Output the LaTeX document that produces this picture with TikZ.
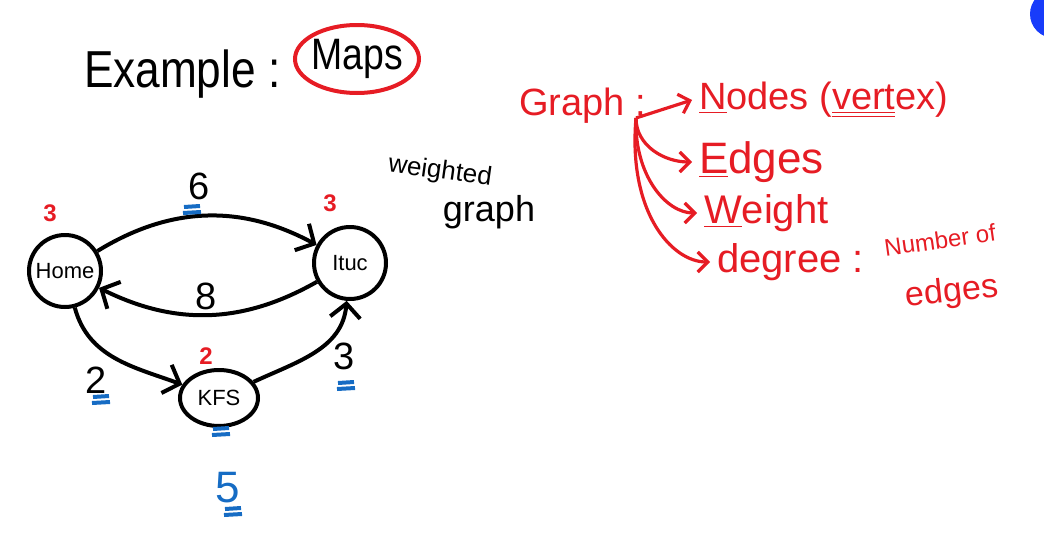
\documentclass[tikz,border=0pt]{standalone}
\usepackage{fontspec}
\setmainfont{Liberation Sans}
\usetikzlibrary{arrows.meta, shapes.geometric}
\definecolor{mapred}{RGB}{230, 28, 36}
\definecolor{mapblue}{RGB}{22, 108, 196}
\definecolor{dotblue}{RGB}{24, 60, 250}

\begin{document}
\begin{tikzpicture}[x=0.5pt, y=-0.5pt,
    place/.style={draw, circle, line width=2pt, minimum size=36pt, inner sep=0pt, font=\fontsize{11}{11}\selectfont},
    road/.style={line width=2pt, -{Straight Barb[length=7pt, width=15pt, line width=2pt]}},
    weightlabel/.style={font=\fontsize{19}{19}\selectfont},
    degreelabel/.style={text=mapred, font=\bfseries\fontsize{12}{12}\selectfont},
    redlabel/.style={text=mapred, anchor=west, font=\fontsize{20}{20}\selectfont},
    redarrow/.style={mapred, line width=1.6pt, -{Straight Barb[length=5pt, width=10pt, line width=1.6pt]}},
    dashmark/.pic={\draw[mapblue, line width=2pt] (-8,-3) -- (8,-4) (-9,3) -- (9,2);}]
    \useasboundingbox (0,0) rectangle (1044,546);
    \clip (0,0) rectangle (1044,546);
    \fill[dotblue] (1054,14) circle [radius=24];

    % Title
    \node[anchor=west, xscale=0.85, font=\fontsize{26}{26}\selectfont] (example) at (78,74) {Example :};
    \node[ellipse, draw=mapred, line width=2pt, minimum width=62pt, minimum height=34pt, inner sep=0pt] (maps) at (357,59) {};
    \node[xscale=0.85, font=\fontsize{22}{22}\selectfont] (mapstext) at (maps.center) {Maps};

    % Places
    \node[place] (home) at (65,271) {Home};
    \node[place] (ituc) at (350,263) {Ituc};
    \node[place, ellipse, minimum width=39pt, minimum height=28pt] (kfs) at (219,398) {KFS};

    % Roads
    \draw[road] (home) to[bend left=30] (ituc);
    \draw[road] (ituc) to[bend left=28] (home);
    \draw[road] (home) to[out=-75, in=160] (kfs);
    \draw[road] (kfs) to[out=25, in=-95] (ituc);

    % Weights
    \node[weightlabel] (w6) at (199,186) {6};
    \node[weightlabel] (w8) at (206,296) {8};
    \node[weightlabel] (w2) at (96,380) {2};
    \node[weightlabel] (w3) at (344,356) {3};
    \node[text=mapblue, font=\fontsize{22}{22}\selectfont] (w5) at (228,488) {5};
    \pic at (192,210) {dashmark};
    \pic at (101,400) {dashmark};
    \pic at (346,386) {dashmark};
    \pic at (221,432) {dashmark};
    \pic at (233,512) {dashmark};

    % Degrees
    \node[degreelabel] (dhome) at (50,213) {3};
    \node[degreelabel] (dituc) at (330,203) {3};
    \node[degreelabel] (dkfs) at (206,356) {2};

    \node[rotate=-8, font=\fontsize{13}{13}\selectfont] (weighted) at (440,172) {weighted};
    \node[font=\fontsize{18}{18}\selectfont] (wgraph) at (489,212) {graph};

    % Graph terms
    \node[redlabel, font=\fontsize{19}{19}\selectfont] (graph) at (512,106) {Graph :};
    \coordinate (fork) at (636,118);
    \node[redlabel, font=\fontsize{19}{19}\selectfont] (nodes) at (692,100) {\underline{N}odes (\underline{\underline{vert}}ex)};
    \node[redlabel, font=\fontsize{22}{22}\selectfont] (edges) at (692,162) {\underline{E}dges};
    \node[redlabel] (weight) at (697,213) {\underline{W}eight};
    \node[redlabel] (degree) at (710,262) {degree :};
    \node[rotate=8, text=mapred, font=\fontsize{12}{12}\selectfont] (number) at (940,240) {Number of};
    \node[rotate=6, text=mapred, font=\fontsize{17}{17}\selectfont] (redges) at (952,293) {edges};

    \draw[redarrow] (fork) -- (nodes.west);
    \draw[redarrow] (fork) to[out=-90, in=180] (edges.west);
    \draw[redarrow] (fork) to[out=-92, in=180, out looseness=1.3, in looseness=0.7] (weight.west);
    \draw[redarrow] (fork) to[out=-95, in=180, out looseness=1.5, in looseness=0.6] (degree.west);
\end{tikzpicture}
\end{document}
